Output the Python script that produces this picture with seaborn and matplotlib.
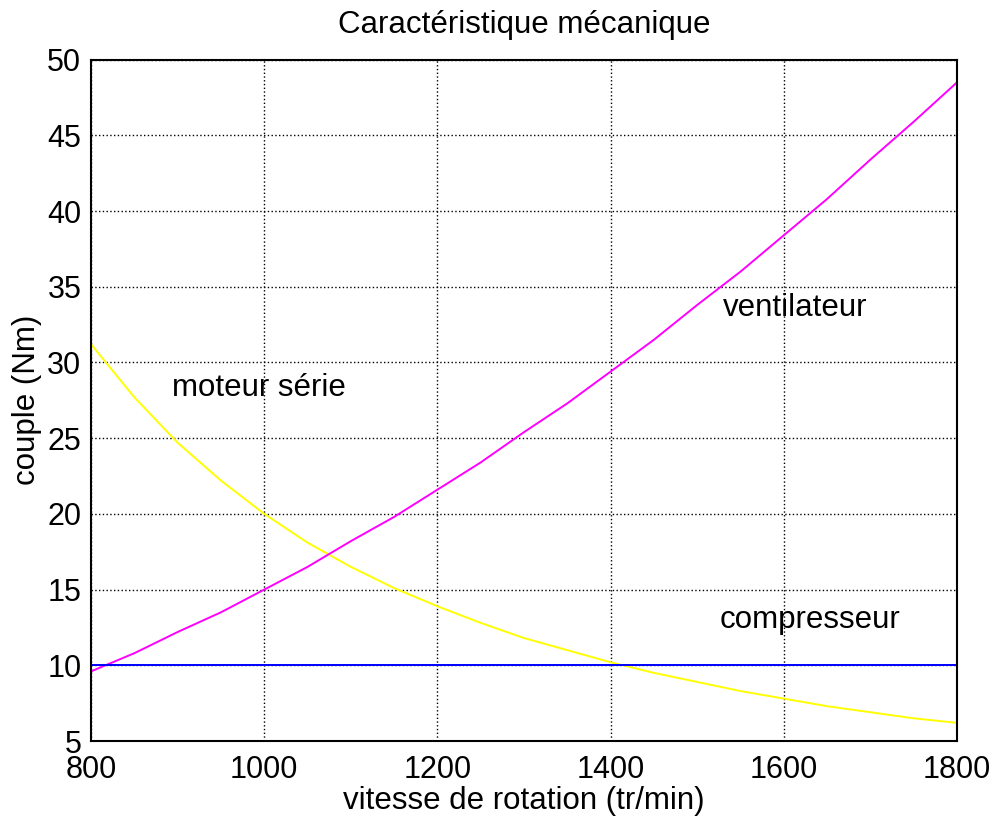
import numpy as np
import pandas as pd
import matplotlib
matplotlib.use("Agg")
import matplotlib.pyplot as plt
import seaborn as sns

# vitesse de rotation (tr/min)
vitesse = [800, 850, 900, 950, 1000, 1050, 1100, 1150, 1200, 1250, 1300,
           1350, 1400, 1450, 1500, 1550, 1600, 1650, 1700, 1750, 1800]
# couples (Nm)
moteur_serie = [31.2, 27.7, 24.7, 22.2, 20.0, 18.1, 16.5, 15.1, 13.9, 12.8, 11.8,
                11.0, 10.2, 9.5, 8.9, 8.3, 7.8, 7.3, 6.9, 6.5, 6.2]
ventilateur = [9.6, 10.8, 12.2, 13.5, 15.0, 16.5, 18.2, 19.8, 21.6, 23.4, 25.4,
               27.3, 29.4, 31.5, 33.8, 36.0, 38.4, 40.8, 43.4, 45.9, 48.5]
compresseur = [10.0] * len(vitesse)

series = {"moteur série": moteur_serie, "ventilateur": ventilateur, "compresseur": compresseur}
couleurs = {"moteur série": "#ffff00", "ventilateur": "#ff00ff", "compresseur": "#0000ff"}

df = pd.concat([pd.DataFrame({"vitesse": vitesse, "couple": v, "courbe": k})
                for k, v in series.items()], ignore_index=True)

sns.set_style("white")
plt.rcParams["font.family"] = ["Liberation Sans", "DejaVu Sans"]
plt.rcParams["text.color"] = "black"
plt.rcParams["axes.labelcolor"] = "black"

fig = plt.figure(figsize=(9.96, 8.23), dpi=100)
ax = fig.add_axes([0.0914, 0.0996, 0.8695, 0.828])

sns.lineplot(data=df, x="vitesse", y="couple", hue="courbe", palette=couleurs,
             ax=ax, legend=False, linewidth=1.4, sort=False)

ax.set_xlim(800, 1800)
ax.set_ylim(5, 50)
ax.set_xticks(np.arange(800, 1801, 200))
ax.set_yticks(np.arange(5, 51, 5))
ax.grid(True, color="black", linestyle=(0, (1, 1.7)), linewidth=1.0)
ax.tick_params(direction="in", length=6, width=1.3, labelsize=22, colors="black")
ax.tick_params(axis="x", pad=10)
ax.tick_params(axis="y", pad=7)
for s in ax.spines.values():
    s.set_visible(True)
    s.set_color("black")
    s.set_linewidth(1.5)

ax.set_title("Caractéristique mécanique", fontsize=22.5, pad=19, color="black")
ax.set_xlabel("vitesse de rotation (tr/min)", fontsize=22.5, labelpad=1)
ax.set_ylabel("couple (Nm)", fontsize=22.5, labelpad=4)

ax.text(893, 28.3, "moteur série", fontsize=22.5, va="center", ha="left", color="black")
ax.text(1530, 33.6, "ventilateur", fontsize=22.5, va="center", ha="left", color="black")
ax.text(1526, 13.0, "compresseur", fontsize=22.5, va="center", ha="left", color="black")

fig.savefig("out.png", dpi=100)
